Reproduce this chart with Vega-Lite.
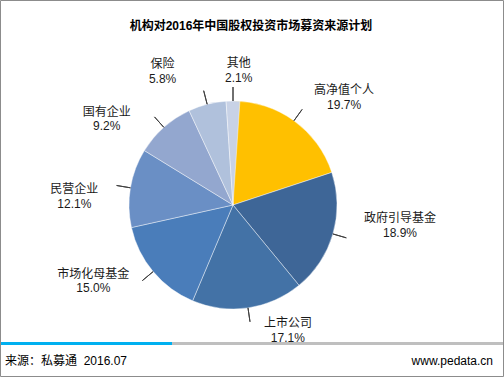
{
  "$schema": "https://vega.github.io/schema/vega-lite/v6.json",
  "width": 504,
  "height": 337,
  "autosize": "none",
  "padding": {"top": 40, "left": 0, "right": 0, "bottom": 0},
  "background": "white",
  "config": {"view": {"stroke": null}, "text": {"font": "Liberation Sans, Noto Sans CJK SC"}},
  "layer": [
    {
      "data": {"values": [
        {"idx": 1, "name": "高净值个人", "value": 19.7},
        {"idx": 2, "name": "政府引导基金", "value": 18.9},
        {"idx": 3, "name": "上市公司", "value": 17.1},
        {"idx": 4, "name": "市场化母基金", "value": 15.0},
        {"idx": 5, "name": "民营企业", "value": 12.1},
        {"idx": 6, "name": "国有企业", "value": 9.2},
        {"idx": 7, "name": "保险", "value": 5.8},
        {"idx": 8, "name": "其他", "value": 2.1}
      ]},
      "transform": [
        {"window": [{"op": "sum", "field": "value", "as": "end"}], "sort": [{"field": "idx"}], "frame": [null, 0]},
        {"calculate": "datum.end - datum.value", "as": "start"},
        {"calculate": "datum.end - datum.value / 2", "as": "mid"},
        {"calculate": "datum.name + '\\n' + format(datum.value, '.1f') + '%'", "as": "label"}
      ],
      "layer": [
        {
          "mark": {"type": "arc", "radius": 104, "x": 233, "y": 165, "stroke": "#ffffff", "strokeWidth": 0.6, "strokeOpacity": 0.7},
          "encoding": {
            "theta": {"field": "start", "type": "quantitative", "scale": {"zero": true}},
            "theta2": {"field": "end"},
            "color": {
              "field": "name", "type": "nominal", "legend": null,
              "scale": {
                "domain": ["高净值个人", "政府引导基金", "上市公司", "市场化母基金", "民营企业", "国有企业", "保险", "其他"],
                "range": ["#FFC000", "#3E6697", "#4372A6", "#4A7DBA", "#6A8FC5", "#93A7CF", "#B0C1DC", "#C8D2E6"]
              }
            }
          }
        },
        {
          "mark": {"type": "arc", "radius": 118, "radius2": 104, "x": 233, "y": 165, "stroke": "#404040", "strokeWidth": 1, "fill": null},
          "encoding": {
            "theta": {"field": "mid", "type": "quantitative"},
            "theta2": {"field": "mid"}
          }
        },
        {
          "transform": [{"filter": "datum.idx == 1"}],
          "mark": {"type": "text", "radius": 156, "thetaOffset": 0.166, "x": 233, "y": 165, "dy": -5, "fontSize": 12, "color": "#1a1a1a", "lineBreak": "\n", "align": "center", "baseline": "middle", "lineHeight": 14.5},
          "encoding": {"theta": {"field": "mid", "type": "quantitative"}, "text": {"field": "label"}}
        },
        {
          "transform": [{"filter": "datum.idx == 2"}],
          "mark": {"type": "text", "radius": 168, "thetaOffset": -0.173, "x": 233, "y": 165, "dy": -5, "fontSize": 12, "color": "#1a1a1a", "lineBreak": "\n", "align": "center", "baseline": "middle", "lineHeight": 14.5},
          "encoding": {"theta": {"field": "mid", "type": "quantitative"}, "text": {"field": "label"}}
        },
        {
          "transform": [{"filter": "datum.idx == 3"}],
          "mark": {"type": "text", "radius": 135, "thetaOffset": -0.274, "x": 233, "y": 165, "dy": -5, "fontSize": 12, "color": "#1a1a1a", "lineBreak": "\n", "align": "center", "baseline": "middle", "lineHeight": 14.5},
          "encoding": {"theta": {"field": "mid", "type": "quantitative"}, "text": {"field": "label"}}
        },
        {
          "transform": [{"filter": "datum.idx == 4"}],
          "mark": {"type": "text", "radius": 158, "thetaOffset": 0.209, "x": 233, "y": 165, "dy": -5, "fontSize": 12, "color": "#1a1a1a", "lineBreak": "\n", "align": "center", "baseline": "middle", "lineHeight": 14.5},
          "encoding": {"theta": {"field": "mid", "type": "quantitative"}, "text": {"field": "label"}}
        },
        {
          "transform": [{"filter": "datum.idx == 5"}],
          "mark": {"type": "text", "radius": 159, "thetaOffset": -0.099, "x": 233, "y": 165, "dy": -5, "fontSize": 12, "color": "#1a1a1a", "lineBreak": "\n", "align": "center", "baseline": "middle", "lineHeight": 14.5},
          "encoding": {"theta": {"field": "mid", "type": "quantitative"}, "text": {"field": "label"}}
        },
        {
          "transform": [{"filter": "datum.idx == 6"}],
          "mark": {"type": "text", "radius": 154, "thetaOffset": -0.234, "x": 233, "y": 165, "dy": -5, "fontSize": 12, "color": "#1a1a1a", "lineBreak": "\n", "align": "center", "baseline": "middle", "lineHeight": 14.5},
          "encoding": {"theta": {"field": "mid", "type": "quantitative"}, "text": {"field": "label"}}
        },
        {
          "transform": [{"filter": "datum.idx == 7"}],
          "mark": {"type": "text", "radius": 153, "thetaOffset": -0.227, "x": 233, "y": 165, "dy": -5, "fontSize": 12, "color": "#1a1a1a", "lineBreak": "\n", "align": "center", "baseline": "middle", "lineHeight": 14.5},
          "encoding": {"theta": {"field": "mid", "type": "quantitative"}, "text": {"field": "label"}}
        },
        {
          "transform": [{"filter": "datum.idx == 8"}],
          "mark": {"type": "text", "radius": 137, "thetaOffset": 0.042, "x": 233, "y": 165, "dy": -5, "fontSize": 12, "color": "#1a1a1a", "lineBreak": "\n", "align": "center", "baseline": "middle", "lineHeight": 14.5},
          "encoding": {"theta": {"field": "mid", "type": "quantitative"}, "text": {"field": "label"}}
        }
      ]
    },
    {
      "data": {"values": [{}]},
      "layer": [
        {"mark": {"type": "text", "fontSize": 12, "fontWeight": "bold", "color": "#000000", "align": "center", "baseline": "middle", "text": "机构对2016年中国股权投资市场募资来源计划"}, "encoding": {"x": {"value": 251}, "y": {"value": -14}}},
        {"mark": {"type": "rule", "color": "#BFBFBF", "strokeWidth": 3}, "encoding": {"x": {"value": 172}, "x2": {"value": 503}, "y": {"value": 303.5}}},
        {"mark": {"type": "rule", "color": "#00B0F0", "strokeWidth": 3}, "encoding": {"x": {"value": 1}, "x2": {"value": 172}, "y": {"value": 303.5}}},
        {"mark": {"type": "text", "fontSize": 12, "color": "#000000", "align": "left", "baseline": "middle", "text": "来源：私募通\u00a0\u00a02016.07"}, "encoding": {"x": {"value": 5}, "y": {"value": 321}}},
        {"mark": {"type": "text", "fontSize": 12, "color": "#000000", "align": "right", "baseline": "middle", "text": "www.pedata.cn"}, "encoding": {"x": {"value": 493}, "y": {"value": 321}}},
        {"mark": {"type": "rect", "fill": null, "stroke": "#8C8C8C", "strokeWidth": 1}, "encoding": {"x": {"value": 0.5}, "x2": {"value": 503.5}, "y": {"value": -39.5}, "y2": {"value": 336.5}}}
      ]
    }
  ]
}
